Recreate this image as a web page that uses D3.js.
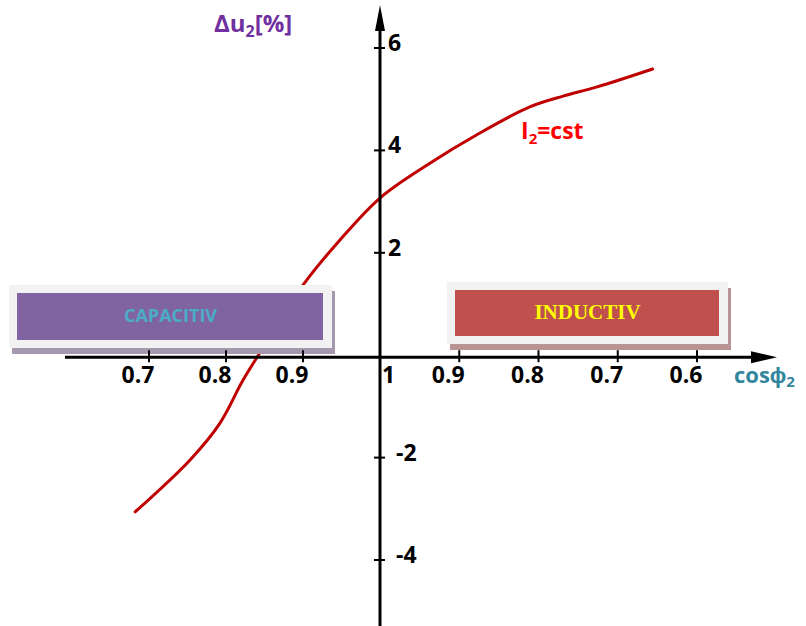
<!DOCTYPE html>
<html>
<head>
<meta charset="utf-8">
<script src="https://cdn.jsdelivr.net/npm/d3@7"></script>
<style>
  html, body { margin: 0; padding: 0; background: #fff; }
  svg { display: block; font-family: "Open Sans", "Liberation Sans", sans-serif; }
</style>
</head>
<body>
<svg id="chart" width="806" height="626"></svg>
<script>
// ---- data ----
const capTicks = [0.7, 0.8, 0.9];          // capacitive side (left of origin)
const indTicks = [0.9, 0.8, 0.7, 0.6];     // inductive side (right of origin)
const yTicks = [6, 4, 2, -2, -4];
// curve I2 = cst : cos phi2, side (-1 capacitive, +1 inductive), delta u2 [%]
const curveCos  = [0.682, 0.753, 0.792, 0.822, 0.848, 0.900, 0.948, 1.000, 0.941, 0.874, 0.811, 0.769, 0.726, 0.656];
const curveSide = [-1, -1, -1, -1, -1, -1, -1, 0, 1, 1, 1, 1, 1, 1];
const curveDu   = [-3.06, -2.05, -1.33, -0.49, 0.14, 1.37, 2.25, 3.07, 3.71, 4.34, 4.85, 5.06, 5.24, 5.59];
const boxLabels = ["CAPACITIV", "INDUCTIV"];

// ---- scales ----
const svg = d3.select("#chart");
const pos = (c, s) => s * (1 - c);                 // signed distance from cos = 1
const x = d3.scaleLinear().domain([-0.3, 0, 0.4]).range([149, 380, 697]);
const y = d3.scaleLinear().domain([-4, 6]).range([560, 48]);
const x0 = x(0), y0 = y(0) + 2;

// ---- curve (drawn below boxes) ----
const pts = curveCos.map((c, i) => [x(pos(c, curveSide[i])), y(curveDu[i])]);
svg.append("path")
  .attr("d", d3.line().curve(d3.curveCatmullRom.alpha(0.5))(pts))
  .attr("fill", "none").attr("stroke", "#C00000").attr("stroke-width", 3)
  .attr("stroke-linecap", "round");

// ---- boxes ----
function box(x1, y1, x2, y2, shadow, fill, label, color, font, size) {
  const g = svg.append("g");
  g.append("rect").attr("x", x1 + 3).attr("y", y1 + 6).attr("width", x2 - x1).attr("height", y2 - y1).attr("fill", shadow);
  g.append("rect").attr("x", x1).attr("y", y1).attr("width", x2 - x1).attr("height", y2 - y1).attr("fill", "#F2F2F2");
  g.append("rect").attr("x", x1 + 8).attr("y", y1 + 8).attr("width", x2 - x1 - 17).attr("height", y2 - y1 - 16).attr("fill", fill);
  g.append("text").attr("x", (x1 + x2) / 2).attr("y", (y1 + y2) / 2 + 1)
    .attr("text-anchor", "middle").attr("dominant-baseline", "middle")
    .attr("font-family", font).attr("font-weight", "bold").attr("font-size", size)
    .attr("fill", color).text(label);
}
box(9, 285, 332, 348, "#A598AE", "#8064A2", boxLabels[0], "#4BACC6", "'Open Sans', sans-serif", 18);
box(447, 282, 728, 344, "#B89594", "#C0504D", boxLabels[1], "#FFFF00", "'Liberation Serif', 'Times New Roman', serif", 21);

// ---- axes ----
svg.append("line").attr("x1", 65).attr("x2", 760).attr("y1", y0).attr("y2", y0)
  .attr("stroke", "#000").attr("stroke-width", 3);
svg.append("path").attr("d", `M777,${y0} L751,${y0 - 6} L751,${y0 + 6} Z`).attr("fill", "#000");
svg.append("line").attr("x1", x0).attr("x2", x0).attr("y1", 22).attr("y2", 626)
  .attr("stroke", "#000").attr("stroke-width", 3);
svg.append("path").attr("d", `M${x0},5 L${x0 - 5},31 L${x0 + 5},31 Z`).attr("fill", "#000");

// x ticks
const xTickData = capTicks.map(c => ({ c, p: pos(c, -1) })).concat(indTicks.map(c => ({ c, p: pos(c, 1) })));
svg.selectAll(".xt").data(xTickData).enter().append("line")
  .attr("x1", d => x(d.p)).attr("x2", d => x(d.p)).attr("y1", y0 - 7).attr("y2", y0 + 5)
  .attr("stroke", "#000").attr("stroke-width", 2);
svg.selectAll(".xl").data(xTickData).enter().append("text")
  .attr("x", d => x(d.p) - 11).attr("y", y0 + 26).attr("text-anchor", "middle")
  .attr("font-weight", "bold").attr("font-size", 23).attr("fill", "#000")
  .text(d => d.c.toFixed(1));
svg.append("text").attr("x", x0 + 2).attr("y", y0 + 26)
  .attr("font-weight", "bold").attr("font-size", 23).attr("fill", "#000").text("1");

// y ticks
svg.selectAll(".yt").data(yTicks).enter().append("line")
  .attr("x1", x0 - 6).attr("x2", x0 + 5).attr("y1", d => y(d)).attr("y2", d => y(d))
  .attr("stroke", "#000").attr("stroke-width", 2);
svg.selectAll(".yl").data(yTicks).enter().append("text")
  .attr("x", d => x0 + (d < 0 ? 16 : 8)).attr("y", d => y(d) + 3)
  .attr("font-weight", "bold").attr("font-size", 23).attr("fill", "#000")
  .text(d => d);

// ---- axis titles ----
const yt = svg.append("text").attr("x", 214).attr("y", 32)
  .attr("font-weight", "bold").attr("font-size", 24).attr("fill", "#7030A0");
yt.append("tspan").text("Δu");
yt.append("tspan").attr("font-size", 16).attr("dy", 5).text("2");
yt.append("tspan").attr("dy", -5).text("[%]");

const xt = svg.append("text").attr("x", 734).attr("y", y0 + 26)
  .attr("font-weight", "bold").attr("font-size", 22).attr("fill", "#31859C");
xt.append("tspan").text("cosϕ");
xt.append("tspan").attr("font-size", 15).attr("dy", 4).text("2");

const ct = svg.append("text").attr("x", 521).attr("y", 139)
  .attr("font-weight", "bold").attr("font-size", 23).attr("fill", "#FF0000");
ct.append("tspan").text("I");
ct.append("tspan").attr("font-size", 15).attr("dy", 5).text("2");
ct.append("tspan").attr("dy", -5).text("=cst");
</script>
</body>
</html>
